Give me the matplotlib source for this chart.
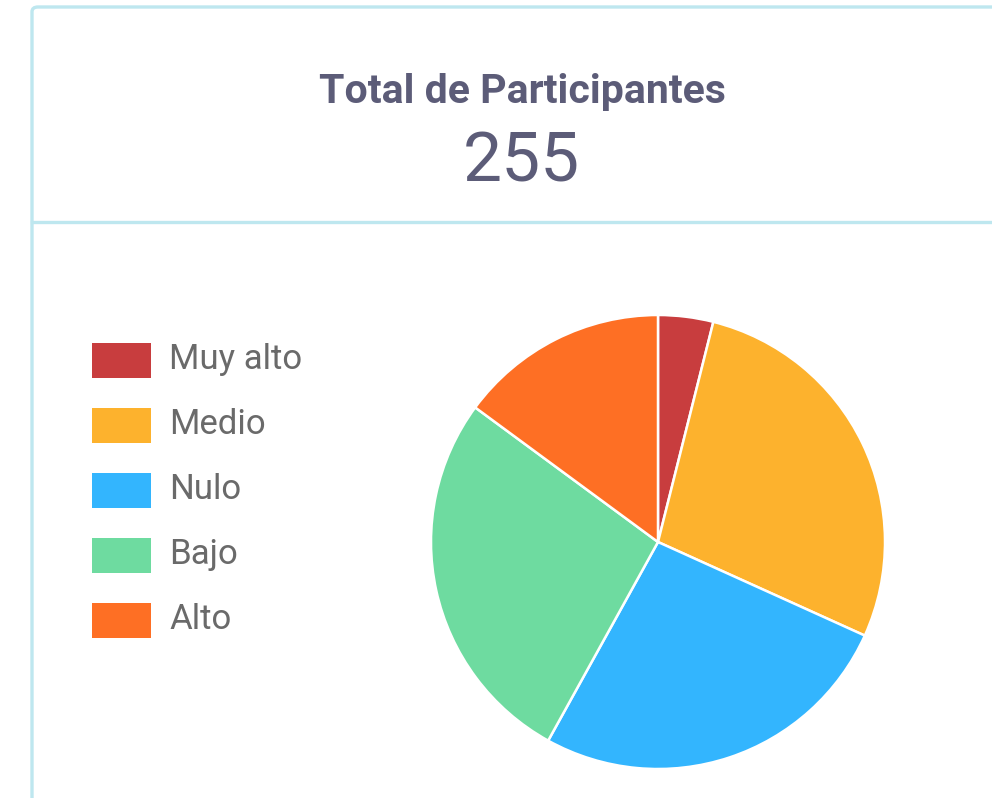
import matplotlib.pyplot as plt
import matplotlib.patches as patches
from matplotlib.lines import Line2D

# data
labels = ["Muy alto", "Medio", "Nulo", "Bajo", "Alto"]
values = [10, 71, 67, 69, 38]
colors = ["#C83D3E", "#FDB22D", "#33B5FE", "#6EDBA0", "#FE6F24"]
title = "Total de Participantes"
total = sum(values)

W, H = 992, 798
fig = plt.figure(figsize=(W / 100, H / 100), dpi=100)
fig.patch.set_facecolor("white")

def fx(px):
    return px / W

def fy(py):
    return 1 - py / H

# card border (only top/left visible) and divider
border = "#BEE7EF"
card = patches.FancyBboxPatch((fx(32), fy(830)), fx(1100), (830 - 7) / H,
                              boxstyle="round,pad=0,rounding_size=0.006",
                              transform=fig.transFigure, facecolor="none",
                              edgecolor=border, linewidth=2.4)
fig.add_artist(card)
fig.add_artist(Line2D([fx(32), 1.0], [fy(222), fy(222)], color=border,
                      linewidth=2.4, transform=fig.transFigure))

# header text
fig.text(fx(522), fy(103), title, ha="center", va="baseline", fontsize=29.5,
         fontweight="bold", color="#5C5C78", family="Roboto")
fig.text(fx(521), fy(182), str(total), ha="center", va="baseline", fontsize=50,
         color="#5C5C78", family="Roboto")

# pie
cx, cy, r = 658, 542, 227
ax = fig.add_axes([fx(cx - r), (H - cy - r) / H, 2 * r / W, 2 * r / H])
ax.pie(values, colors=colors, startangle=90, counterclock=False, radius=1,
       wedgeprops=dict(edgecolor="white", linewidth=1.8))
ax.set_xlim(-1, 1)
ax.set_ylim(-1, 1)
ax.axis("off")

# legend
for i, (lab, col) in enumerate(zip(labels, colors)):
    top = 343 + i * 65
    fig.add_artist(patches.Rectangle((fx(92), fy(top + 35)), fx(59), 35 / H,
                                     transform=fig.transFigure, facecolor=col,
                                     edgecolor="none"))
    fig.text(fx(169), fy(top + 26), lab, ha="left", va="baseline", fontsize=25,
             color="#6A6A6A", family="Roboto")

fig.savefig("out.png", dpi=100)
